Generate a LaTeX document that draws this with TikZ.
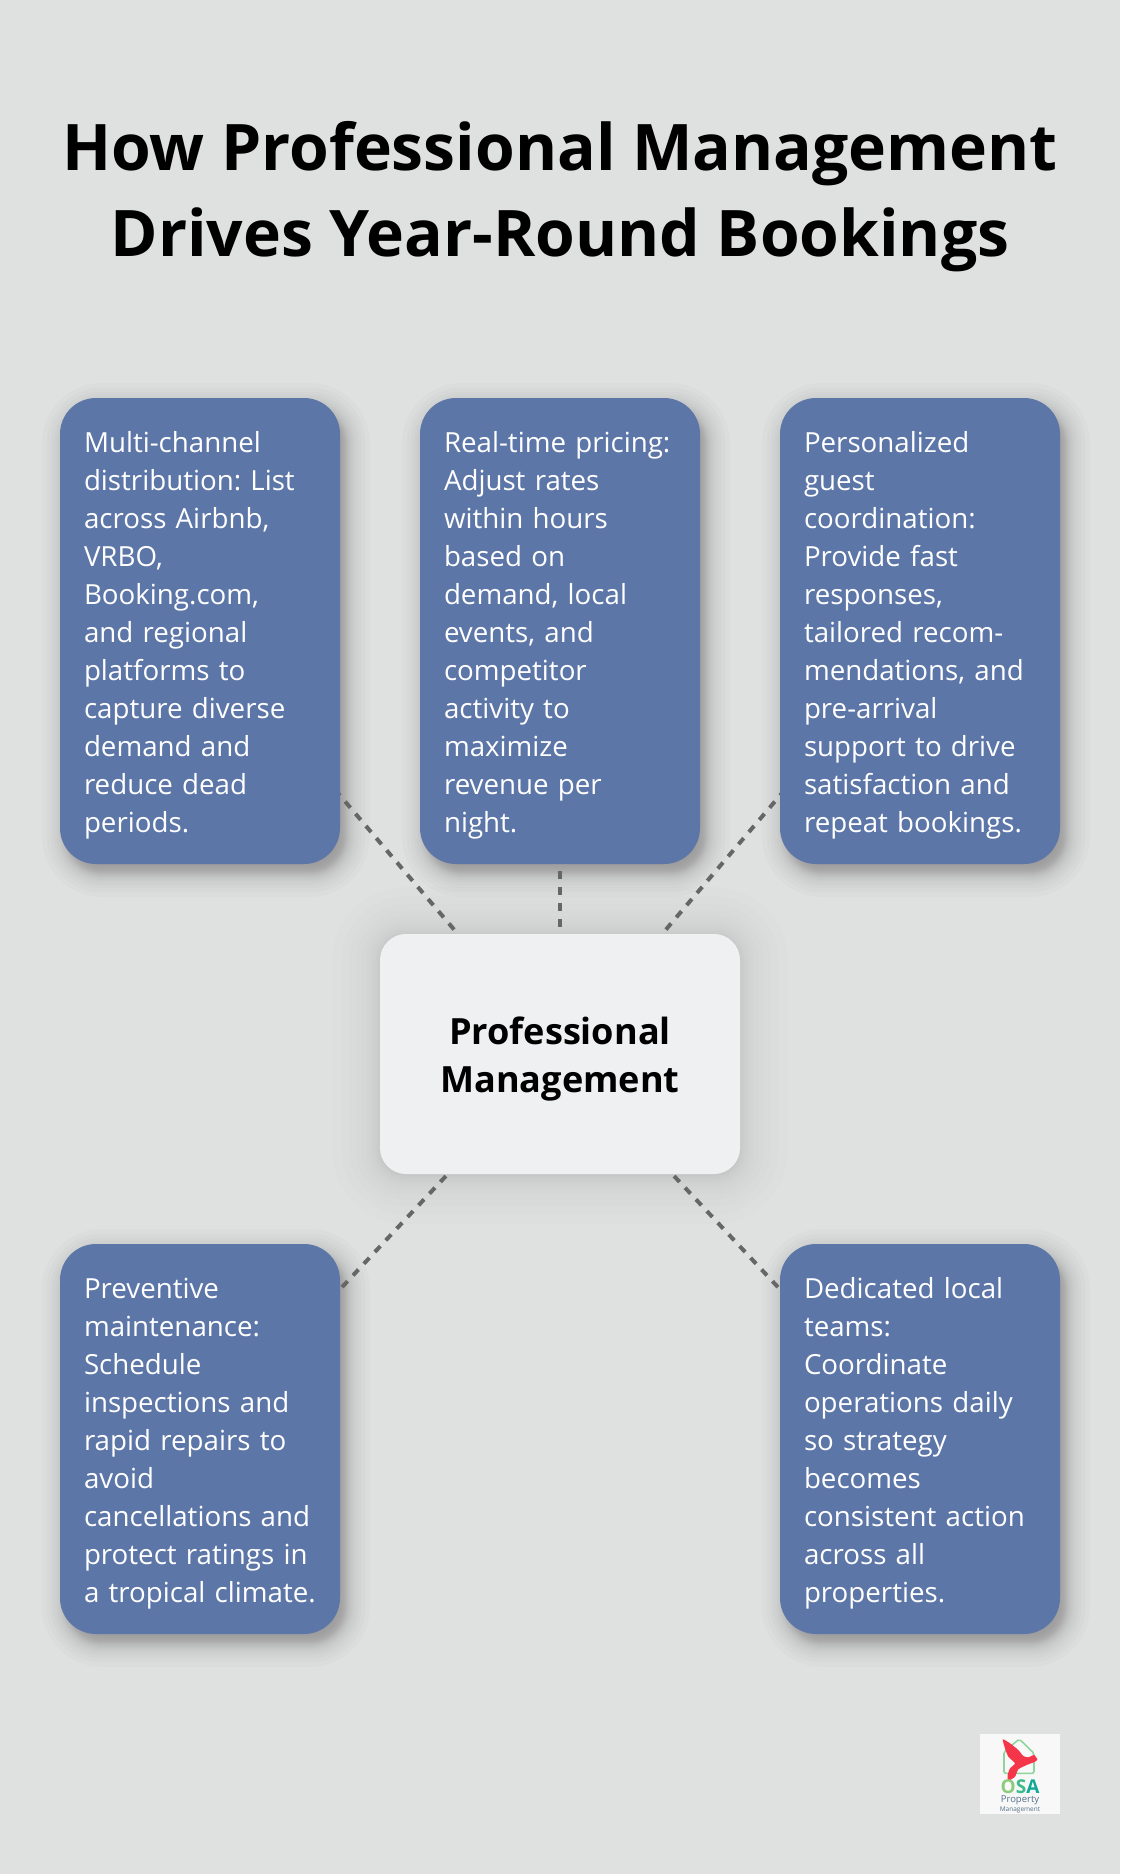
\documentclass[tikz,border=0pt]{standalone}
\usepackage{fontspec}
\setmainfont{Open Sans}
\frenchspacing
\usetikzlibrary{calc}
\definecolor{bgc}{HTML}{DFE1E0}
\definecolor{boxc}{HTML}{5D76A8}
\definecolor{cenc}{HTML}{EFF0F2}
\definecolor{connc}{HTML}{666666}
\definecolor{logobg}{HTML}{F8F8F8}
\definecolor{logogreen}{HTML}{8FD49A}
\definecolor{logored}{HTML}{F5364A}
\definecolor{logoO}{HTML}{8CCB7E}
\definecolor{logoS}{HTML}{3DB98C}
\definecolor{logoA}{HTML}{12A894}
\definecolor{logogrey}{HTML}{55708A}
\pgfdeclarelayer{bglayer}
\pgfdeclarelayer{shadowlayer}
\pgfdeclarelayer{connlayer}
\pgfsetlayers{bglayer,shadowlayer,connlayer,main}
\newcommand\tl[1]{\mbox{\rule[-8pt]{0pt}{38pt}#1}}
\newcommand\softshadow[8]{% x1 y1 x2 y2 radius halfextent steps alpha-per-step
  \begin{pgfonlayer}{shadowlayer}
  \foreach \k in {1,...,#7}{
    \pgfmathsetmacro\tval{1-2*(\k-1)/(#7-1)}
    \pgfmathsetmacro\ins{#6*(0.7*\tval*\tval*\tval+0.3*\tval)}
    \pgfmathsetmacro\rad{max(#5+\ins,2)}
    \fill[black,fill opacity=#8,rounded corners=\rad pt] (#1-\ins,#2-\ins) rectangle (#3+\ins,#4+\ins);
  }
  \end{pgfonlayer}}
\tikzset{
  infobox/.style={fill=boxc,text=white,rounded corners=36pt,text width=232pt,inner xsep=24pt,inner ysep=24pt,
    minimum width=280pt,align=left,font=\fontsize{27.7}{38}\selectfont},
  hubbox/.style={fill=cenc,text=black,rounded corners=26pt,minimum width=360pt,minimum height=240pt,inner sep=0pt,
    align=center,font=\fontsize{36.1}{48}\selectfont\bfseries},
  titletext/.style={text=black,inner sep=0pt,align=center,font=\fontsize{64.2}{86}\selectfont\bfseries},
  conn/.style={draw=connc,line width=4pt,dash pattern=on 8pt off 8pt},
}
\begin{document}
\begin{tikzpicture}[x=1pt,y=-1pt]
\useasboundingbox (0,0) rectangle (1120,1874);
\begin{pgfonlayer}{bglayer}
\fill[bgc] (0,0) rectangle (1120,1874);
\end{pgfonlayer}

\softshadow{66}{407}{346}{873}{36}{24}{24}{0.017}
\softshadow{426}{407}{706}{873}{36}{24}{24}{0.017}
\softshadow{786}{407}{1066}{873}{36}{24}{24}{0.017}
\softshadow{66}{1253}{346}{1643}{36}{24}{24}{0.017}
\softshadow{786}{1253}{1066}{1643}{36}{24}{24}{0.017}
\softshadow{380}{935}{740}{1176}{26}{48}{24}{0.009}

\node[titletext] (title) at (560,188) {\rule[-18pt]{0pt}{86pt}How Professional Management\\\rule[-18pt]{0pt}{86pt}Drives Year-Round Bookings};

\node[infobox] (b1) at (200,631) {\tl{Multi-channel}\\\tl{distribution: List}\\\tl{across Airbnb,}\\\tl{VRBO,}\\\tl{Booking.com,}\\\tl{and regional}\\\tl{platforms to}\\\tl{capture diverse}\\\tl{demand and}\\\tl{reduce dead}\\\tl{periods.}};
\node[infobox] (b2) at (560,631) {\tl{Real-time pricing:}\\\tl{Adjust rates}\\\tl{within hours}\\\tl{based on}\\\tl{demand, local}\\\tl{events, and}\\\tl{competitor}\\\tl{activity to}\\\tl{maximize}\\\tl{revenue per}\\\tl{night.}};
\node[infobox] (b3) at (920,631) {\tl{Personalized}\\\tl{guest}\\\tl{coordination:}\\\tl{Provide fast}\\\tl{responses,}\\\tl{tailored recom-}\\\tl{mendations, and}\\\tl{pre-arrival}\\\tl{support to drive}\\\tl{satisfaction and}\\\tl{repeat bookings.}};
\node[infobox] (b4) at (200,1439) {\tl{Preventive}\\\tl{maintenance:}\\\tl{Schedule}\\\tl{inspections and}\\\tl{rapid repairs to}\\\tl{avoid}\\\tl{cancellations and}\\\tl{protect ratings in}\\\tl{a tropical climate.}};
\node[infobox] (b5) at (920,1439) {\tl{Dedicated local}\\\tl{teams:}\\\tl{Coordinate}\\\tl{operations daily}\\\tl{so strategy}\\\tl{becomes}\\\tl{consistent action}\\\tl{across all}\\\tl{properties.}};
\node[hubbox] (hub) at (560,1054) {\rule[-10pt]{0pt}{48pt}Professional\\\rule[-10pt]{0pt}{48pt}Management};

\begin{pgfonlayer}{connlayer}
\draw[conn] (b1.center) -- (hub.center);
\draw[conn] (b2.center) -- (hub.center);
\draw[conn] (b3.center) -- (hub.center);
\draw[conn] (b4.center) -- (hub.center);
\draw[conn] (b5.center) -- (hub.center);
\end{pgfonlayer}

% logo
\fill[logobg] (980,1734) rectangle (1060,1814);
\draw[logogreen,line width=1.6pt,rounded corners=2pt] (1004,1751.7) -- (1019.3,1739) -- (1034,1753.3) -- (1034,1773.3) -- (1004,1773.3) -- cycle;
\fill[logored] plot[smooth cycle,tension=0.35] coordinates {(1002.7,1739.3) (1010,1743.3) (1018.3,1750) (1023.3,1756) (1028.3,1757.3) (1034,1755) (1037.3,1759.3) (1035,1761.7) (1026.7,1765) (1018.3,1769.3) (1015,1776.7) (1008.3,1780.7) (1007.7,1775) (1010,1768.3) (1015,1763.3) (1008.3,1756.7) (1005,1748.3)};
\node[inner sep=0pt,font=\fontsize{19}{19}\selectfont\bfseries] (osa) at (1020,1786.5) {\textcolor{logoO}{O}\textcolor{logoS}{S}\textcolor{logoA}{A}};
\node[text=logogrey,inner sep=0pt,font=\fontsize{9.5}{10}\selectfont] (prop) at (1020,1800.5) {Property};
\node[text=logogrey,inner sep=0pt,font=\fontsize{6.5}{7}\selectfont] (mgmt) at (1020,1809.5) {Management};
\end{tikzpicture}
\end{document}
